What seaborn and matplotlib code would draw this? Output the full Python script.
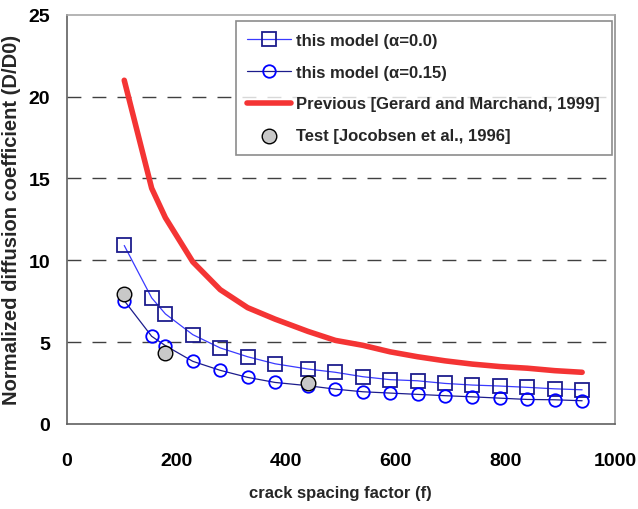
import pandas as pd
import matplotlib.pyplot as plt
import seaborn as sns

# Data
crack_spacing = [105, 155, 180, 230, 280, 330, 380, 440, 490, 540, 590, 640, 690, 740, 790, 840, 890, 940]
model_a00 = [10.9, 7.7, 6.72, 5.45, 4.64, 4.1, 3.67, 3.35, 3.15, 2.88, 2.70, 2.63, 2.47, 2.37, 2.31, 2.23, 2.14, 2.08]
model_a015 = [7.53, 5.35, 4.78, 3.82, 3.27, 2.84, 2.53, 2.33, 2.12, 1.96, 1.88, 1.80, 1.72, 1.65, 1.57, 1.49, 1.47, 1.41]
previous = [21.0, 14.4, 12.6, 9.9, 8.2, 7.1, 6.4, 5.65, 5.1, 4.8, 4.4, 4.1, 3.85, 3.65, 3.5, 3.4, 3.25, 3.15]

test_x = [105, 180, 440]
test_y = [7.94, 4.31, 2.47]

labels = ["this model (\u03b1=0.0)", "this model (\u03b1=0.15)",
          "Previous [Gerard and Marchand, 1999]", "Test [Jocobsen et al., 1996]"]
x_ticks = [0, 200, 400, 600, 800, 1000]
y_ticks = [0, 5, 10, 15, 20, 25]

df = pd.DataFrame({"f": crack_spacing, "a00": model_a00, "a015": model_a015, "prev": previous})
df_test = pd.DataFrame({"f": test_x, "D": test_y})

sns.set_style("white")
plt.rcParams['font.family'] = ['Liberation Sans', 'DejaVu Sans']
plt.rcParams['font.weight'] = 'bold'

fig = plt.figure(figsize=(6.38, 5.10), dpi=100)
ax = fig.add_axes([0.1045, 0.167, 0.8595, 0.802])

# Dashed horizontal grid
for yv in y_ticks[1:-1]:
    ax.axhline(yv, color="#404040", lw=1.0, linestyle=(0, (10, 8)), zorder=0)

sns.lineplot(data=df, x="f", y="a00", ax=ax, color="#3a3aff", lw=0.9, marker="s",
             markersize=10, markerfacecolor="none", markeredgecolor="#1c1c8c",
             markeredgewidth=1.3, label=labels[0], sort=False)
sns.lineplot(data=df, x="f", y="a015", ax=ax, color="#1c1c8c", lw=0.9, marker="o",
             markersize=9, markerfacecolor="none", markeredgecolor="#0000ff",
             markeredgewidth=1.3, label=labels[1], sort=False)
sns.lineplot(data=df, x="f", y="prev", ax=ax, color="#f43434", lw=4, label=labels[2], sort=False)
sns.scatterplot(data=df_test, x="f", y="D", ax=ax, color="#c8c8c8", edgecolor="black",
                linewidth=1.0, s=110, label=labels[3], zorder=5)

ax.set_xlim(0, 1000)
ax.set_ylim(0, 25)
ax.set_xticks(x_ticks)
ax.set_yticks(y_ticks)
ax.tick_params(axis="x", direction="in", length=6, width=1, pad=20, labelsize=14, colors="#606060",
               labelcolor="black")
ax.tick_params(axis="y", direction="in", length=4, width=1, pad=12, labelsize=14, colors="#606060",
               labelcolor="black")
ax.set_xlabel("crack spacing factor (f)", fontsize=12, fontweight="bold", labelpad=12)
ax.set_ylabel("Normalized diffusion coefficient (D/D0)", fontsize=14.5, fontweight="bold", labelpad=5)

ax.spines["left"].set_color("#606060")
ax.spines["bottom"].set_color("#606060")
ax.spines["top"].set_color("#a8a8a8")
ax.spines["right"].set_color("#909090")
for s in ax.spines.values():
    s.set_linewidth(1.2)

leg = ax.legend(loc="upper right", bbox_to_anchor=(0.994, 0.984), borderaxespad=0,
                fontsize=12, frameon=True, fancybox=False, edgecolor="#707070",
                handlelength=2.6, labelspacing=1.0, borderpad=0.7, handletextpad=0.35)
leg.get_frame().set_linewidth(1.2)

fig.savefig("out.png", dpi=100)
plt.close(fig)
